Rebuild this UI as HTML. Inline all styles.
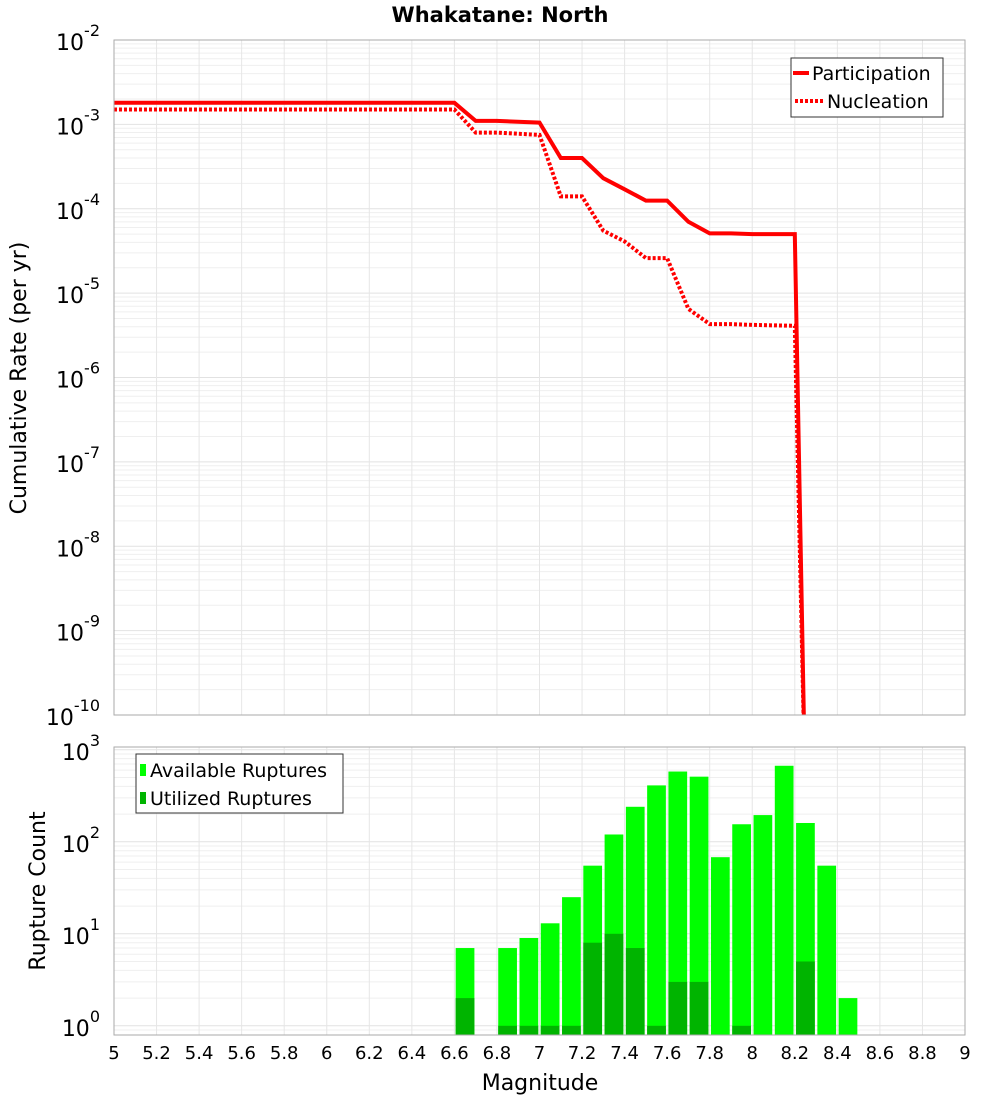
<!DOCTYPE html>
<html><head><meta charset="utf-8"><style>
body{margin:0;background:#fff}
svg text{font-family:"DejaVu Sans","Liberation Sans",sans-serif}
</style></head><body>
<svg id="chart" width="1000" height="1100" xmlns="http://www.w3.org/2000/svg">
<text x="500" y="22" text-anchor="middle" font-size="21" font-weight="bold">Whakatane: North</text>
<g id="topG"></g>
<g id="botG"></g>
<text transform="translate(26,378) rotate(-90)" text-anchor="middle" font-size="22">Cumulative Rate (per yr)</text>
<text transform="translate(45,891) rotate(-90)" text-anchor="middle" font-size="22">Rupture Count</text>
<text x="540" y="1090" text-anchor="middle" font-size="22">Magnitude</text>
<g>
<rect x="791" y="58" width="152" height="59" fill="#fff" stroke="#333"/>
<line x1="793" y1="73" x2="809" y2="73" stroke="#f00" stroke-width="4"/>
<text x="812" y="80" font-size="19">Participation</text>
<line x1="795" y1="101" x2="823" y2="101" stroke="#f00" stroke-width="4" stroke-dasharray="3,2"/>
<text x="827" y="108" font-size="19">Nucleation</text>
</g>
<g>
<rect x="136" y="754" width="207" height="59" fill="#fff" stroke="#333"/>
<rect x="140" y="764" width="6" height="12" fill="#00ff00"/>
<text x="150" y="777" font-size="19">Available Ruptures</text>
<rect x="140" y="792" width="6" height="12" fill="#00b400"/>
<text x="150" y="805" font-size="19">Utilized Ruptures</text>
</g>
</svg>
<script>
const partM=[5,6.6,6.7,6.8,7.0,7.1,7.2,7.3,7.4,7.5,7.6,7.7,7.8,7.9,8.0,8.2,8.25];
const partV=[1.8e-3,1.8e-3,1.1e-3,1.1e-3,1.05e-3,4e-4,4e-4,2.3e-4,1.7e-4,1.25e-4,1.25e-4,7e-5,5.1e-5,5.1e-5,5e-5,5e-5,1e-11];
const nuclM=[5,6.6,6.7,6.8,7.0,7.1,7.2,7.3,7.4,7.5,7.6,7.7,7.8,7.9,8.0,8.2,8.25];
const nuclV=[1.5e-3,1.5e-3,8e-4,8e-4,7.5e-4,1.4e-4,1.4e-4,5.5e-5,4.1e-5,2.6e-5,2.6e-5,6.5e-6,4.3e-6,4.3e-6,4.2e-6,4.1e-6,1e-11];
const binCenters=[6.65,6.85,6.95,7.05,7.15,7.25,7.35,7.45,7.55,7.65,7.75,7.85,7.95,8.05,8.15,8.25,8.35,8.45];
const available=[7,7,9,13,25,55,120,240,410,580,510,68,155,195,670,160,55,2];
const utilized=[2,1,1,1,1,8,10,7,1,3,3,0,1,0,0,5,0,0];
const xTicks=["5","5.2","5.4","5.6","5.8","6","6.2","6.4","6.6","6.8","7","7.2","7.4","7.6","7.8","8","8.2","8.4","8.6","8.8","9"];

const NS="http://www.w3.org/2000/svg";
const X0=114,X1=965;
const x=m=>X0+(m-5)/4*(X1-X0);
const T0=40,T1=715; const yT=v=>T0+(-2-Math.log10(v))/8*(T1-T0);
const B0=747,B1=1035,BT=3.03,BB=-0.1; const yB=v=>B0+(BT-Math.log10(v))/(BT-BB)*(B1-B0);
function el(t,a,p){const e=document.createElementNS(NS,t);for(const k in a)e.setAttribute(k,a[k]);p.appendChild(e);return e;}
const topG=document.getElementById('topG'),botG=document.getElementById('botG');

for(let d=-10;d<-2;d++)for(let k=1;k<10;k++){const y=yT(k*Math.pow(10,d));el('line',{x1:X0,x2:X1,y1:y,y2:y,stroke:k==1?'#e2e2e2':'#efefef','stroke-width':1},topG);}
for(let d=0;d<=3;d++)for(let k=1;k<10;k++){const v=k*Math.pow(10,d);if(Math.log10(v)>BT)continue;const y=yB(v);el('line',{x1:X0,x2:X1,y1:y,y2:y,stroke:k==1?'#e2e2e2':'#efefef','stroke-width':1},botG);}
{const y=yB(0.9);el('line',{x1:X0,x2:X1,y1:y,y2:y,stroke:'#efefef'},botG);}
xTicks.forEach(t=>{const xx=x(parseFloat(t));
 el('line',{x1:xx,x2:xx,y1:T0,y2:T1,stroke:'#e6e6e6'},topG);
 el('line',{x1:xx,x2:xx,y1:B0,y2:B1,stroke:'#e6e6e6'},botG);
 const tx=el('text',{x:xx,y:1059,'text-anchor':'middle','font-size':18},botG);tx.textContent=t;
 
 
});
for(let d=-10;d<=-2;d++){const t=el('text',{x:100,y:yT(Math.pow(10,d))+10,'text-anchor':'end','font-size':22},topG);
 
 
 t.innerHTML='10<tspan dy="-14" font-size="16">'+d+'</tspan>';}
for(let d=0;d<=3;d++){const t=el('text',{x:100,y:yB(Math.pow(10,d))+10,'text-anchor':'end','font-size':22},botG);
 
 
 t.innerHTML='10<tspan dy="-14" font-size="16">'+d+'</tspan>';}
binCenters.forEach((c,i)=>{const l=x(c-0.044),w=x(c+0.044)-l;
 if(available[i]>0){const y=yB(available[i]);const r=el('rect',{x:l,y:y,width:w,height:B1-y,fill:'#00ff00'},botG);
 
 }
 if(utilized[i]>0){const y=yB(utilized[i]);const r=el('rect',{x:l,y:y,width:w,height:B1-y,fill:'#00b400'},botG);
 
 }
});
const cp=el('clipPath',{id:'cpt'},topG);el('rect',{x:X0,y:T0,width:X1-X0,height:T1-T0},cp);
function line(M,V,dash,name){const d=M.map((m,i)=>(i?'L':'M')+x(m).toFixed(1)+','+yT(V[i]).toFixed(1)).join('');
 const p=el('path',{d:d,fill:'none',stroke:'#f00','stroke-width':4,'clip-path':'url(#cpt)'},topG);
 if(dash)p.setAttribute('stroke-dasharray','3,2');
 
 }
line(nuclM,nuclV,true,'nucleation-line');
line(partM,partV,false,'participation-line');
el('rect',{x:X0,y:T0,width:X1-X0,height:T1-T0,fill:'none',stroke:'#aaa'},topG);
el('rect',{x:X0,y:B0,width:X1-X0,height:B1-B0,fill:'none',stroke:'#aaa'},botG);
</script>
</body></html>
